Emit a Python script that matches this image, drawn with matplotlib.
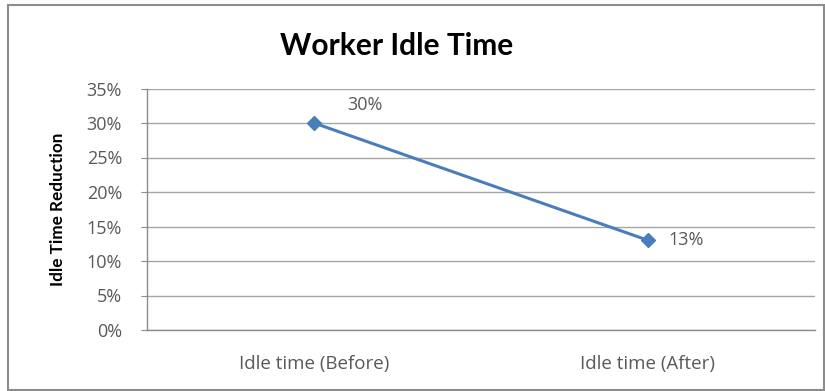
import matplotlib
matplotlib.use("Agg")
import matplotlib.pyplot as plt
from matplotlib.patches import Rectangle
from matplotlib.ticker import FuncFormatter

categories = ["Idle time (Before)", "Idle time (After)"]
values = [0.30, 0.13]
value_labels = ["30%", "13%"]
y_ticks = [0, 0.05, 0.10, 0.15, 0.20, 0.25, 0.30, 0.35]

title = "Worker Idle Time"
ylabel = "Idle Time Reduction"

plt.rcParams['font.family'] = ['Open Sans', 'DejaVu Sans']

W, H = 825, 391
fig = plt.figure(figsize=(W / 100, H / 100), dpi=100)
fig.patch.set_facecolor("white")

# outer chart border
fig.add_artist(Rectangle((8 / W, 1 / H), (W - 9) / W, (H - 6) / H,
                         transform=fig.transFigure, fill=False,
                         edgecolor="#8c8c8c", linewidth=1.5))

ax = fig.add_axes([147 / W, (H - 330) / H, (815 - 147) / W, (330 - 88.5) / H])
x = list(range(len(categories)))
ax.plot(x, values, color="#4A7EBB", linewidth=2.2, marker="D",
        markersize=7, markerfacecolor="#4A7EBB", markeredgecolor="#4A7EBB",
        zorder=3)

ax.set_xlim(-0.5, len(categories) - 0.5)
ax.set_ylim(0, 0.35)
ax.set_yticks(y_ticks)
ax.yaxis.set_major_formatter(FuncFormatter(lambda v, p: f"{round(v * 100):d}%"))
ax.set_xticks(x)
ax.set_xticklabels(categories)

ax.grid(axis="y", color="#a6a6a6", linewidth=1.0)
ax.set_axisbelow(True)
for s in ["top", "right"]:
    ax.spines[s].set_visible(False)
for s in ["left", "bottom"]:
    ax.spines[s].set_color("#8c8c8c")
    ax.spines[s].set_linewidth(1.0)

ax.tick_params(axis="y", length=4, color="#8c8c8c", labelsize=13,
               labelcolor="#595959", pad=14)
ax.tick_params(axis="x", length=0, labelsize=13.5, labelcolor="#595959", pad=18)

ax.set_ylabel(ylabel, fontsize=12.3, fontweight="bold", color="black", labelpad=15,
              family=['Lato', 'DejaVu Sans'])

offsets = [(24, 13), (15, 0)]
for xi, v, lab, off in zip(x, values, value_labels, offsets):
    ax.annotate(lab, (xi, v), xytext=off, textcoords="offset points",
                ha="left", va="center", fontsize=13, color="#595959")

fig.text(397 / W, 1 - 46 / H, title, ha="center", va="center",
         fontsize=21.5, fontweight="bold", color="black",
         family=['Lato', 'DejaVu Sans'])

fig.savefig("out.png", dpi=100)
